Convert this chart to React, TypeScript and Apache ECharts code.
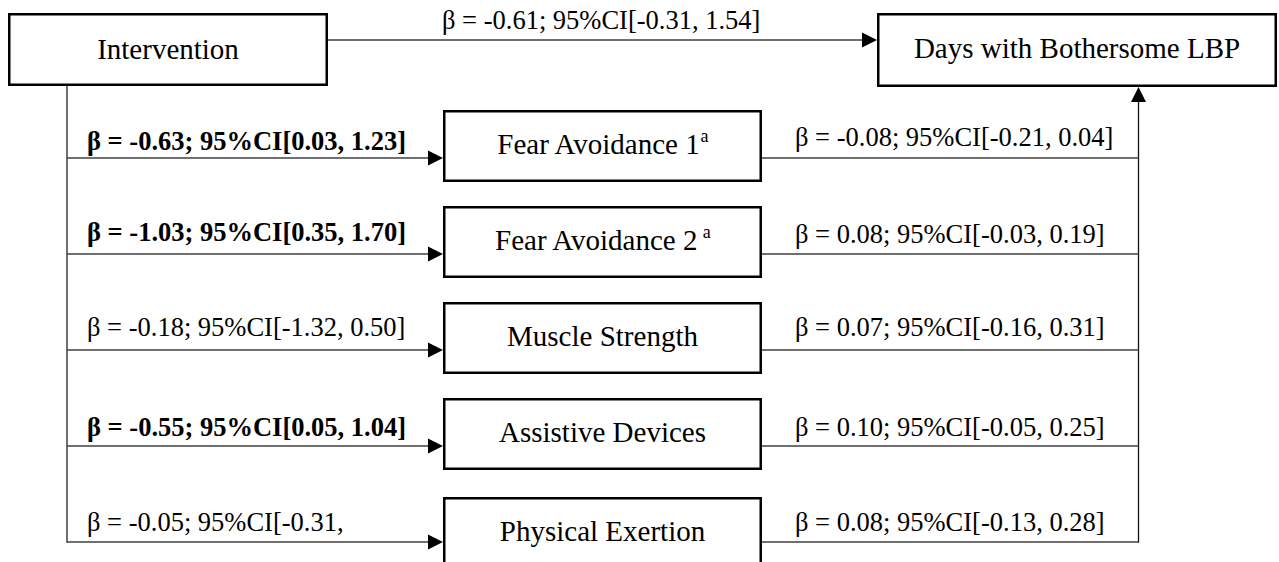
import React, { useEffect, useRef } from "react";
import * as echarts from "echarts";

// ---- data ----
const exposureLabel = "Intervention";
const outcomeLabel = "Days with Bothersome LBP";
const mediatorLabels = ["Fear Avoidance 1", "Fear Avoidance 2", "Muscle Strength", "Assistive Devices", "Physical Exertion"];
const mediatorNotes = ["a", " a", "", "", ""];

// path a: intervention -> mediator
const aBeta = [-0.63, -1.03, -0.18, -0.55, -0.05];
const aLow = [0.03, 0.35, -1.32, 0.05, -0.31];
const aHigh: (number | null)[] = [1.23, 1.7, 0.5, 1.04, null];
const aSignificant = [true, true, false, true, false];

// path b: mediator -> outcome
const bBeta = [-0.08, 0.08, 0.07, 0.1, 0.08];
const bLow = [-0.21, -0.03, -0.16, -0.05, -0.13];
const bHigh = [0.04, 0.19, 0.31, 0.25, 0.28];

// direct path
const cBeta = -0.61;
const cLow = -0.31;
const cHigh = 1.54;

// ---- layout ----
const FONT = "'Liberation Serif', 'Times New Roman', Times, serif";
const EDGE_FS = 26.5;
const BOX_FS = 29;
const K = 0.32; // central-baseline offset ratio

const expBox = { x: 8, y: 13, w: 320, h: 73 };
const outBox = { x: 877, y: 13, w: 400, h: 74 };
const medX = 443;
const medW = 319;
const medH = 72;
const medTops = [110, 206, 302, 398, 497];
const rowY = [158, 254, 350, 446, 542];
const leftX = 67;
const rightX = 1138.5;
const topLineY = 40;
const leftLabelX = 87;
const rightLabelX = 795;
const leftBase = [149.3, 240, 335.7, 435, 530];
const rightBase = [145, 242.7, 335, 435, 530];
const topBase = 28.3;
const topLabelX = 442;
const LINE_C = "#404040";
const LINE_W = 1.5;
const ARROW_L = 15;
const ARROW_H = 7.5;

function fmt(b: number, lo: number, hi: number | null) {
  const head = `β = ${b.toFixed(2)}; 95%CI[${lo.toFixed(2)},`;
  return hi == null ? head : `${head} ${hi.toFixed(2)}]`;
}

function rectEl(b: { x: number; y: number; w: number; h: number }) {
  return {
    type: "rect",
    shape: { x: b.x + 1.25, y: b.y + 1.25, width: b.w - 2.5, height: b.h - 2.5 },
    style: { fill: "#fff", stroke: "#000", lineWidth: 2.5 },
    z: 5,
  };
}

function lineEl(x1: number, y1: number, x2: number, y2: number, color = LINE_C, w = LINE_W) {
  return { type: "line", shape: { x1, y1, x2, y2 }, style: { stroke: color, lineWidth: w }, z: 2 };
}

function arrowRight(tipX: number, y: number) {
  return {
    type: "polygon",
    shape: { points: [[tipX, y], [tipX - ARROW_L, y - ARROW_H], [tipX - ARROW_L, y + ARROW_H]] },
    style: { fill: "#000" },
    z: 6,
  };
}

function arrowUp(x: number, tipY: number) {
  return {
    type: "polygon",
    shape: { points: [[x, tipY], [x - ARROW_H, tipY + ARROW_L], [x + ARROW_H, tipY + ARROW_L]] },
    style: { fill: "#000" },
    z: 6,
  };
}

function textEl(text: string, x: number, baseline: number, fs: number, align: string, bold = false) {
  return {
    type: "text",
    x,
    y: baseline - K * fs,
    z: 10,
    style: {
      text,
      fill: "#000",
      fontSize: fs,
      fontFamily: FONT,
      fontWeight: bold ? "bold" : "normal",
      align,
      verticalAlign: "middle",
      textAlign: align,
      textVerticalAlign: "middle",
    },
  };
}

function boxTextEl(main: string, note: string, cx: number, baseline: number) {
  const text = note ? `{m|${main}}{s|${note}}` : `{m|${main}}`;
  return {
    type: "text",
    x: cx,
    y: baseline - K * BOX_FS,
    z: 10,
    style: {
      text,
      fill: "#000",
      fontSize: BOX_FS,
      fontFamily: FONT,
      align: "center",
      verticalAlign: "middle",
      textAlign: "center",
      textVerticalAlign: "middle",
      rich: {
        m: { fontSize: BOX_FS, fontFamily: FONT, fill: "#000", lineHeight: 34 },
        s: { fontSize: 18, fontFamily: FONT, fill: "#000", lineHeight: 14, verticalAlign: "top" },
      },
    },
  };
}

function buildGraphics() {
  const els: any[] = [];
  // boxes
  els.push(rectEl(expBox));
  els.push(rectEl(outBox));
  els.push(boxTextEl(exposureLabel, "", expBox.x + expBox.w / 2, 58.3));
  els.push(boxTextEl(outcomeLabel, "", outBox.x + outBox.w / 2, 57.3));

  // direct path
  els.push(lineEl(expBox.x + expBox.w, topLineY, outBox.x - ARROW_L + 1, topLineY));
  els.push(arrowRight(outBox.x, topLineY));
  els.push(textEl(fmt(cBeta, cLow, cHigh), topLabelX, topBase, EDGE_FS, "left"));

  // trunks
  els.push(lineEl(leftX, expBox.y + expBox.h, leftX, rowY[rowY.length - 1] + 0.75));
  els.push(lineEl(rightX, rowY[rowY.length - 1] + 0.75, rightX, outBox.y + outBox.h + ARROW_L - 1, "#111", 1.3));
  els.push(arrowUp(rightX, outBox.y + outBox.h));

  mediatorLabels.forEach((lab, i) => {
    const top = medTops[i];
    const y = rowY[i];
    els.push(rectEl({ x: medX, y: top, w: medW, h: medH }));
    els.push(boxTextEl(lab, mediatorNotes[i], medX + medW / 2, top + 43.5));
    // a path
    els.push(lineEl(leftX, y, medX - ARROW_L + 1, y));
    els.push(arrowRight(medX, y));
    els.push(textEl(fmt(aBeta[i], aLow[i], aHigh[i]), leftLabelX, leftBase[i], EDGE_FS, "left", aSignificant[i]));
    // b path
    els.push(lineEl(medX + medW, y, rightX, y));
    els.push(textEl(fmt(bBeta[i], bLow[i], bHigh[i]), rightLabelX, rightBase[i], EDGE_FS, "left"));
  });
  return els;
}

export default function App() {
  const ref = useRef<HTMLDivElement>(null);
  useEffect(() => {
    if (!ref.current) return;
    const chart = echarts.init(ref.current, undefined, { renderer: "svg" });
    chart.setOption({
      animation: false,
      backgroundColor: "#ffffff",
      graphic: { elements: buildGraphics() },
    });
    return () => chart.dispose();
  }, []);
  return (
    <div
      ref={ref}
      style={{ position: "absolute", left: 0, top: 0, width: 1279, height: 562, background: "#fff" }}
    />
  );
}
